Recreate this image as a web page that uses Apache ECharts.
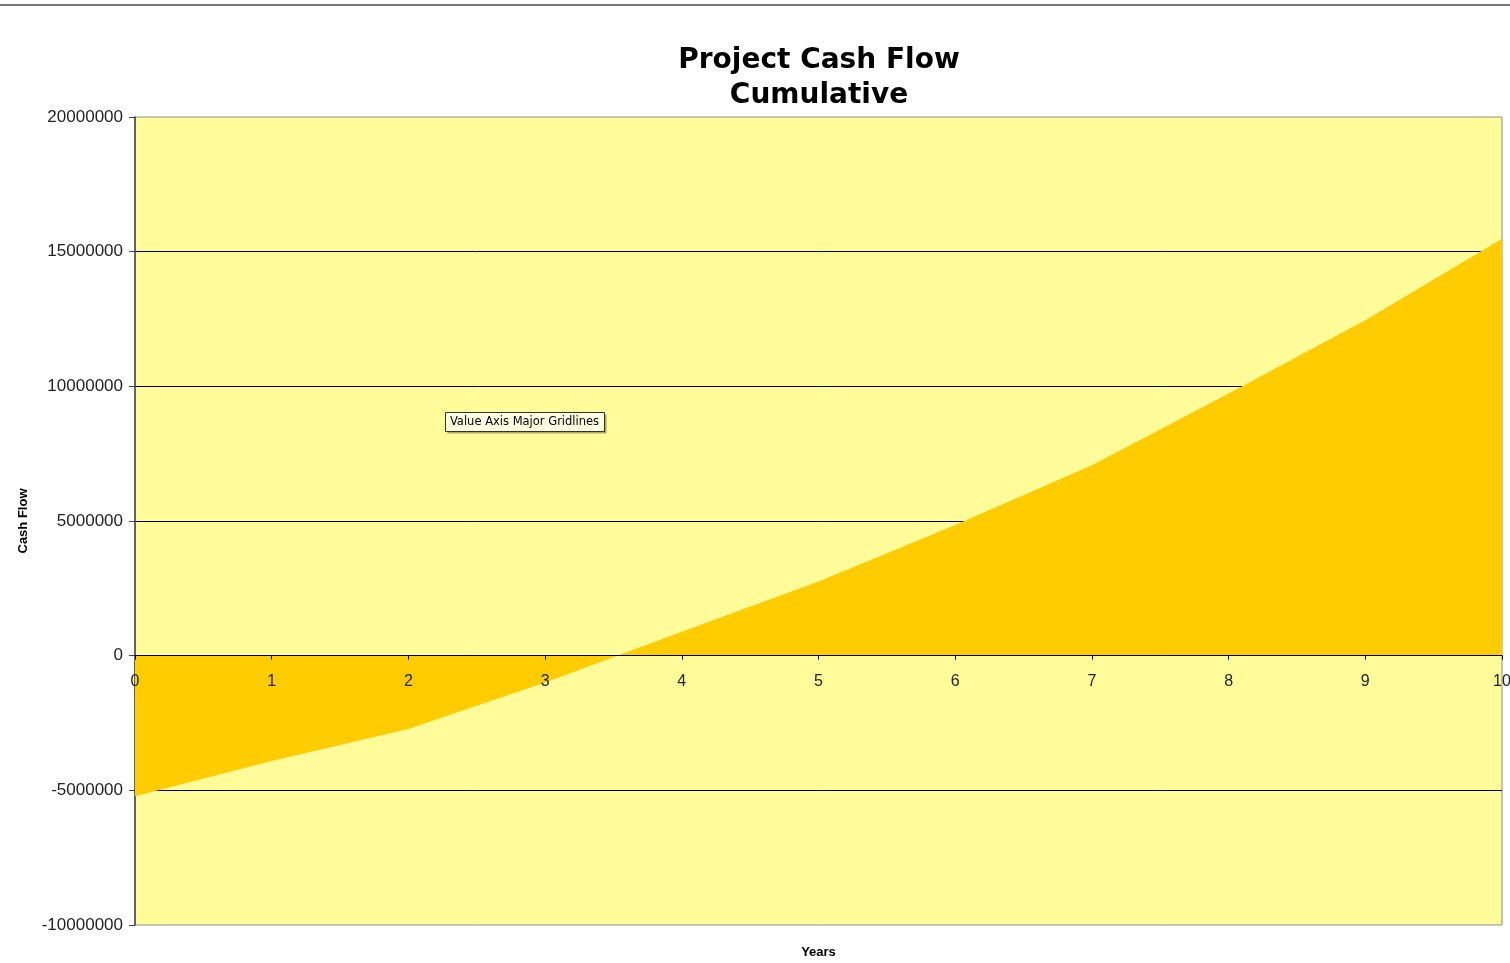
<!DOCTYPE html>
<html>
<head>
<meta charset="utf-8">
<script src="https://cdn.jsdelivr.net/npm/echarts@6/dist/echarts.min.js"></script>
<style>
html,body{margin:0;padding:0;background:#fff;}
#c{width:1510px;height:963px;}
</style>
</head>
<body>
<div id="c"></div>
<script>
const years = ['0','1','2','3','4','5','6','7','8','9','10'];
const cumulativeCashFlow = [-5220000, -3910000, -2720000, -1000000, 890000, 2750000, 4850000, 7070000, 9730000, 12450000, 15480000];
const yMin = -10000000, yMax = 20000000, yStep = 5000000;

const chart = echarts.init(document.getElementById('c'), null, {renderer: 'canvas'});
chart.setOption({
  backgroundColor: '#ffffff',
  animation: false,
  title: {
    text: 'Project Cash Flow\nCumulative',
    left: 814, top: 38, textAlign: 'center',
    textStyle: {fontFamily: 'DejaVu Sans', fontWeight: 'bold', fontSize: 28, lineHeight: 35, color: '#000'}
  },
  grid: {
    left: 135, right: 8, top: 117, bottom: 38,
    containLabel: false, outerBoundsMode: 'none',
    show: true, backgroundColor: '#FFFC99', borderColor: '#8c8c8c', borderWidth: 1
  },
  xAxis: {
    type: 'category', data: years, boundaryGap: false, z: 5,
    name: 'Years', nameLocation: 'middle', nameGap: 21,
    nameTextStyle: {fontFamily: 'Liberation Sans', fontWeight: 'bold', fontSize: 13, color: '#000'},
    axisLine: {show: true, onZero: true, onZeroAxisIndex: 0, lineStyle: {color: '#000', width: 1}},
    axisTick: {show: true, length: 4, alignWithLabel: true, lineStyle: {color: '#000'}},
    axisLabel: {margin: -251, fontFamily: 'Liberation Sans', fontSize: 16, color: '#222'},
    splitLine: {show: false}
  },
  yAxis: {
    type: 'value', min: yMin, max: yMax, interval: yStep,
    name: 'Cash Flow', nameLocation: 'middle', nameGap: 105, nameRotate: 90,
    nameTextStyle: {fontFamily: 'Liberation Sans', fontWeight: 'bold', fontSize: 13, color: '#000'},
    axisLine: {show: true, onZero: false, lineStyle: {color: '#444', width: 1.5}},
    axisTick: {show: true, length: 6, lineStyle: {color: '#444'}},
    axisLabel: {margin: 12, fontFamily: 'Liberation Sans', fontSize: 17, color: '#222', formatter: v => String(v)},
    splitLine: {show: true, showMinLine: false, showMaxLine: false, lineStyle: {color: '#000', width: 1}}
  },
  series: [{
    type: 'line', data: cumulativeCashFlow, symbol: 'none', smooth: false,
    lineStyle: {width: 0}, areaStyle: {color: '#FFCC00', opacity: 1}, z: 2
  }],
  graphic: [
    {type: 'line', shape: {x1: 0, y1: 5, x2: 1510, y2: 5}, style: {stroke: '#777', lineWidth: 2}},
    {type: 'group', left: 445, top: 412, children: [
      {type: 'rect', shape: {x: 2, y: 2, width: 159, height: 19}, style: {fill: '#a8a860'}},
      {type: 'rect', shape: {x: 0, y: 0, width: 159, height: 19}, style: {fill: '#FFFFE1', stroke: '#333', lineWidth: 1}},
      {type: 'text', x: 79, y: 10, style: {text: 'Value Axis Major Gridlines', fill: '#000', font: '11.5px "DejaVu Sans"', align: 'center', verticalAlign: 'middle'}}
    ]}
  ]
});
</script>
</body>
</html>
